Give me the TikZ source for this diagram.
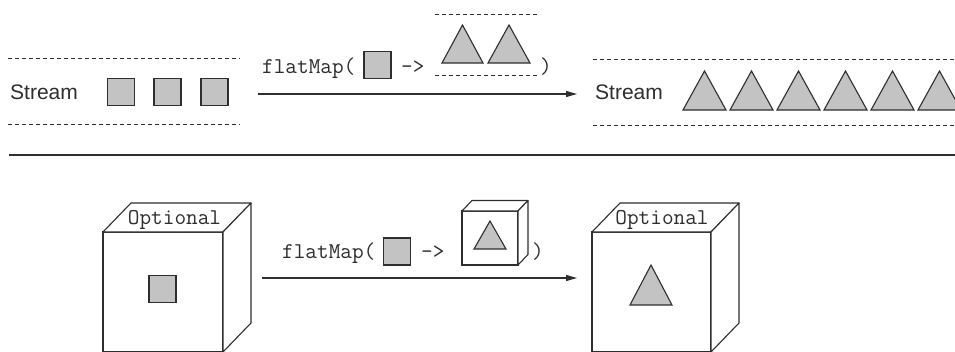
\documentclass[tikz,border=0pt]{standalone}
\usepackage{fontspec}
\setmainfont{Liberation Sans}
\usetikzlibrary{arrows.meta}
\definecolor{ink}{HTML}{2E2E2E}
\definecolor{shade}{HTML}{C3C3C3}
\newcommand{\trishape}[4]{\draw[shapeline] (#1,#4) -- ({(#1+#2)/2},#3) -- (#2,#4) -- cycle;}
\newcommand{\cubeshape}[6]{%
  \draw[edge,fill=white] (#1,#2) rectangle (#3,#4);
  \draw[edge,fill=white,line join=round] (#1,#2) -- ({#1+#5},{#2-#6}) -- ({#3+#5},{#2-#6}) -- (#3,#2) -- cycle;
  \draw[edge,fill=white,line join=round] (#3,#2) -- ({#3+#5},{#2-#6}) -- ({#3+#5},{#4-#6}) -- (#3,#4) -- cycle;}
\begin{document}
\begin{tikzpicture}[x=1pt,y=-1pt,
  shapeline/.style={draw=ink,line width=1.1pt,fill=shade},
  boxsq/.style={shapeline,minimum size=27pt,inner sep=0pt},
  dashline/.style={draw=ink,line width=1pt,dash pattern=on 4pt off 3pt},
  edge/.style={draw=ink,line width=1.1pt},
  conn/.style={draw=ink,line width=1.1pt,-{Triangle[length=11pt,width=6pt]}},
  sanslbl/.style={font=\fontsize{21}{25}\selectfont,text=ink,inner sep=0pt},
  monolbl/.style={font=\ttfamily\fontsize{22.6}{26}\selectfont,text=ink,inner sep=0pt},
]
\useasboundingbox (0,0) rectangle (955,351);
\clip (0,0) rectangle (955,351);
\fill[white] (0,0) rectangle (955,351);

% ---------- top row: Stream ----------
\draw[dashline] (8,58) -- (240,58);
\draw[dashline] (8,124) -- (240,124);
\node[sanslbl,anchor=west] (s1) at (10,92) {Stream};
\node[boxsq] (q1) at (121,92) {};
\node[boxsq] (q2) at (167.5,92) {};
\node[boxsq] (q3) at (214.5,92) {};

\coordinate (a1s) at (258,94);
\coordinate (a1e) at (577,94);
\draw[conn] (a1s) -- (a1e);

\node[monolbl,anchor=base west] (f1) at (262,73) {flatMap(};
\node[boxsq] (fq1) at (377.5,65) {};
\node[monolbl,anchor=base west] (ar1) at (401,73) {->};
\draw[dashline] (435,14) -- (540,14);
\draw[dashline] (435,75) -- (540,75);
\trishape{442}{483}{25}{63}
\trishape{488}{530}{25}{63}
\node[monolbl,anchor=base west] (cp1) at (540,73) {)};

\draw[dashline] (593,59) -- (955,59);
\draw[dashline] (593,125) -- (955,125);
\node[sanslbl,anchor=west] (s2) at (595,92) {Stream};
\foreach \x in {683,730,777,824,871,918} {
  \trishape{\x}{\x+43}{71}{110}
}

% ---------- separator ----------
\draw[draw=ink,line width=1.5pt] (9,155) -- (955,155);

% ---------- bottom row: Optional ----------
\cubeshape{103}{232}{223}{352}{28}{29}
\node[monolbl,anchor=base] (o1) at (174.5,224) {Optional};
\node[boxsq] (oq1) at (162.5,289) {};

\coordinate (a2s) at (262,278);
\coordinate (a2e) at (577,278);
\draw[conn] (a2s) -- (a2e);

\node[monolbl,anchor=base west] (f2) at (282,258) {flatMap(};
\node[boxsq] (fq2) at (397,251.5) {};
\node[monolbl,anchor=base west] (ar2) at (421,258) {->};
\cubeshape{462}{211}{518}{265}{10}{10.5}
\trishape{474}{506}{221}{249}
\node[monolbl,anchor=base west] (cp2) at (532,258) {)};

\cubeshape{592}{232}{711}{352}{28}{29}
\node[monolbl,anchor=base] (o2) at (662,224) {Optional};
\trishape{630}{672}{265}{305}
\end{tikzpicture}
\end{document}
